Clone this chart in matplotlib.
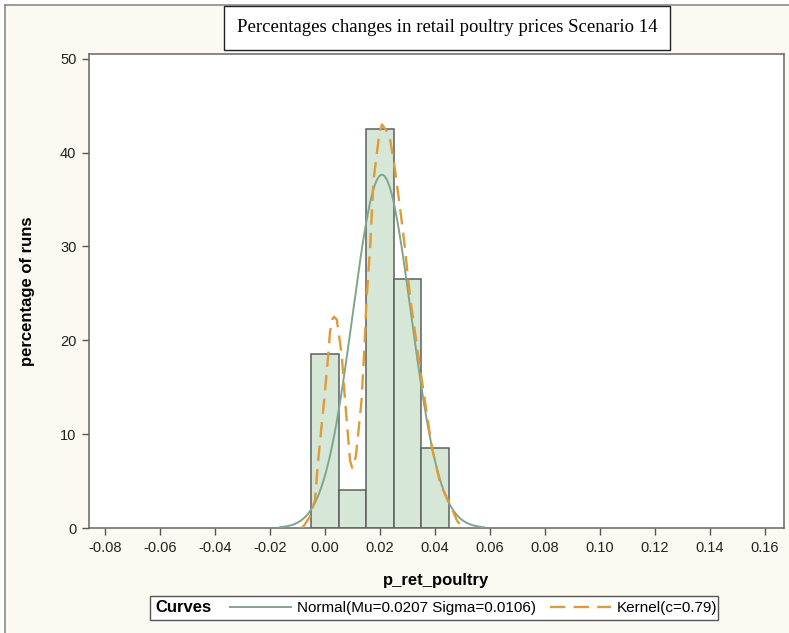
import matplotlib
matplotlib.use("Agg")
import matplotlib.pyplot as plt
import numpy as np
from matplotlib.patches import Rectangle
from matplotlib.lines import Line2D

# ---- data ----
bin_edges = [-0.005, 0.005, 0.015, 0.025, 0.035, 0.045]
bin_pct = [18.5, 4.0, 42.5, 26.5, 8.5]
mu = 0.0207
sigma = 0.0106
kernel_x = [-0.0085, -0.0075, -0.0055, -0.0036, -0.0027, -0.0015, -0.0003, 0.0012, 0.0018,
            0.0026, 0.0033, 0.0043, 0.0061, 0.0073, 0.0083, 0.0091, 0.0099, 0.0112, 0.0121,
            0.0133, 0.0143, 0.0151, 0.0164, 0.0176, 0.0197, 0.0207, 0.0234, 0.0252, 0.0276,
            0.0291, 0.0303, 0.0315, 0.0352, 0.0388, 0.0420, 0.0458, 0.0480, 0.0497, 0.0510]
kernel_y = [0.0, 0.3, 1.2, 3.0, 6.5, 10.1, 13.6, 18.4, 20.8,
            22.2, 22.5, 22.2, 18.4, 13.6, 10.1, 7.2, 6.4, 7.6, 10.1,
            13.6, 19.0, 24.3, 29.8, 36.9, 41.9, 43.0, 41.9, 38.7, 33.4,
            29.8, 26.3, 23.4, 15.8, 8.7, 4.6, 2.3, 0.8, 0.1, 0.0]
xticks = [-0.08, -0.06, -0.04, -0.02, 0.00, 0.02, 0.04, 0.06, 0.08, 0.10, 0.12, 0.14, 0.16]
yticks = [0, 10, 20, 30, 40, 50]
title = "Percentages changes in retail poultry prices Scenario 14"
normal_label = "Normal(Mu=0.0207 Sigma=0.0106)"
kernel_label = "Kernel(c=0.79)"

plt.rcParams['font.family'] = ['Liberation Sans', 'DejaVu Sans']

W, H = 789, 633
fig = plt.figure(figsize=(W / 100, H / 100), dpi=100, facecolor='#FCF9F2')

# white strip + gray border (left and top)
fig.patches.append(Rectangle((0, 0), 5 / W, 1, transform=fig.transFigure,
                             facecolor='white', edgecolor='none', zorder=0))
fig.patches.append(Rectangle((0, 1 - 5 / H), 1, 5 / H, transform=fig.transFigure,
                             facecolor='white', edgecolor='none', zorder=0))
fig.lines.append(Line2D([5 / W, 5 / W], [0, 1 - 5 / H], transform=fig.transFigure,
                        color='#8a8a8a', lw=1.2))
fig.lines.append(Line2D([5 / W, 1], [1 - 5 / H, 1 - 5 / H], transform=fig.transFigure,
                        color='#8a8a8a', lw=1.2))

ax = fig.add_axes([89 / W, 1 - 528 / H, (784 - 89) / W, (528 - 54) / H])
ax.set_zorder(5)
ax.set_facecolor('white')

widths = np.diff(bin_edges)
ax.bar(bin_edges[:-1], bin_pct, width=widths, align='edge', color='#D7E7D7',
       edgecolor='#5c5f5c', linewidth=1.1, zorder=2)

xs = np.linspace(mu - 3.5 * sigma, mu + 3.5 * sigma, 300)
binw = widths[0]
norm_pct = 100 * binw / (sigma * np.sqrt(2 * np.pi)) * np.exp(-0.5 * ((xs - mu) / sigma) ** 2)
ax.plot(xs, norm_pct, color='#7FA68A', lw=1.4, zorder=3)
ax.plot(kernel_x, kernel_y, color='#E09A38', lw=1.7, dashes=(6.5, 3.5), zorder=4)

ax.set_xlim(-0.0858, 0.1669)
ax.set_ylim(0, 50.5)
ax.set_xticks(xticks)
ax.set_xticklabels([f"{t:.2f}" for t in xticks])
ax.set_yticks(yticks)
ax.tick_params(axis='both', direction='out', length=5, width=1, color='#555555',
               labelsize=10.5, labelcolor='#222222', pad=4)
for s in ax.spines.values():
    s.set_color('#666666')
    s.set_linewidth(1.1)

ax.set_xlabel("p_ret_poultry", fontsize=12, fontweight='bold', labelpad=13)
ax.set_ylabel("percentage of runs", fontsize=12, fontweight='bold', labelpad=18)

# title box
fig.text(447 / W, 1 - 28 / H, title, ha='center', va='center', fontsize=13.5,
         family=['Liberation Serif', 'DejaVu Serif'],
         bbox=dict(boxstyle='square,pad=0.7', facecolor='white', edgecolor='#222222', lw=1))

# legend
fig.patches.append(Rectangle((150 / W, 1 - 620 / H), (718 - 150) / W, 24 / H,
                             transform=fig.transFigure, facecolor='white',
                             edgecolor='#555555', lw=1, zorder=1))
fig.text(155 / W, 1 - 608 / H, "Curves", ha='left', va='center', fontsize=12,
         fontweight='bold', zorder=3)
handles = [Line2D([], [], color='#7FA68A', lw=1.4),
           Line2D([], [], color='#E09A38', lw=1.7, dashes=(6.5, 3.5))]
fig.legend(handles, [normal_label, kernel_label], loc='center left',
           bbox_to_anchor=(230 / W, 1 - 608 / H), ncol=2, frameon=False,
           fontsize=11, handlelength=4.0, handletextpad=0.4, columnspacing=0.9,
           borderpad=0, borderaxespad=0)

fig.savefig("out.png", dpi=100, facecolor=fig.get_facecolor())
